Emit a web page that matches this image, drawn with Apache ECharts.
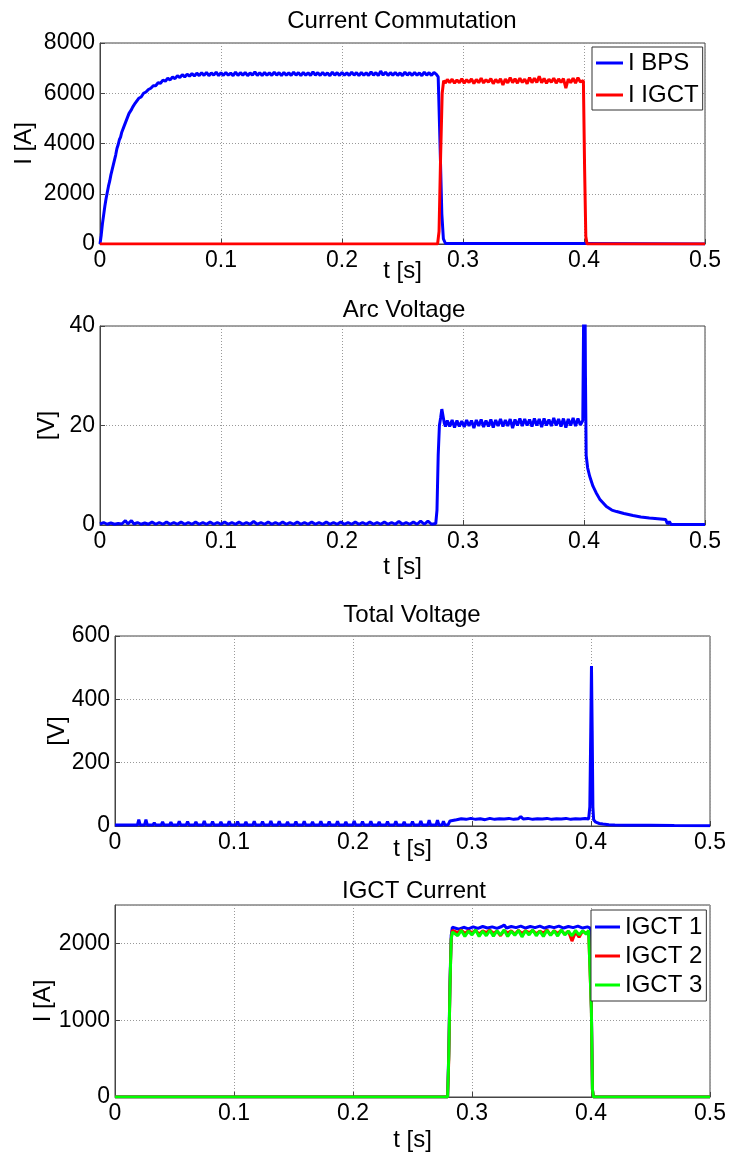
<!DOCTYPE html>
<html><head><meta charset="utf-8">
<script src="https://cdn.jsdelivr.net/npm/echarts@6/dist/echarts.min.js"></script>
<style>html,body{margin:0;padding:0;background:#fff}#c{width:730px;height:1154px}</style>
</head><body><div id="c"></div>
<script>
// ---------- data ----------
const panelTitles = ['Current Commutation', 'Arc Voltage', 'Total Voltage', 'IGCT Current'];
const yNames = ['I [A]', '[V]', '[V]', 'I [A]'];
const xName = 't [s]';
const xTicks = [0, 0.1, 0.2, 0.3, 0.4, 0.5];
const yTicks1 = [0, 2000, 4000, 6000, 8000];
const yTicks2 = [0, 20, 40];
const yTicks3 = [0, 200, 400, 600];
const yTicks4 = [0, 1000, 2000, 2500];

const iBps = [[0,0],[0.001,350],[0.002,800],[0.003,1150],[0.004,1500],[0.005,1800],[0.006,2050],[0.007,2300],[0.008,2500],[0.009,2750],[0.010,2950],[0.011,3150],[0.012,3350],[0.013,3550],[0.014,3800],[0.015,3950],[0.016,4150],[0.017,4250],[0.018,4450],[0.019,4500],[0.020,4700],[0.021,4750],[0.022,4950],[0.023,5000],[0.024,5200],[0.025,5250],[0.026,5350],[0.027,5450],[0.028,5500],[0.029,5600],[0.030,5650],[0.032,5800],[0.034,5850],[0.036,6000],[0.038,6050],[0.040,6150],[0.042,6200],[0.044,6300],[0.046,6300],[0.048,6420],[0.050,6400],[0.052,6520],[0.054,6480],[0.056,6600],[0.058,6530],[0.060,6650],[0.062,6580],[0.064,6700],[0.066,6620],[0.068,6740],[0.070,6650],[0.072,6760],[0.074,6680],[0.076,6780],[0.078,6690],[0.080,6800],[0.082,6700],
[0.084,6820],[0.086,6710],[0.088,6830],[0.090,6700],[0.092,6810],[0.094,6720],[0.096,6840],[0.098,6700],[0.100,6820],[0.102,6710],[0.104,6830],[0.106,6720],[0.108,6800],[0.110,6700],[0.112,6840],[0.114,6710],[0.116,6820],[0.118,6720],[0.120,6830],[0.122,6700],[0.124,6810],[0.126,6720],[0.128,6850],[0.130,6710],[0.132,6820],[0.134,6700],[0.136,6830],[0.138,6720],[0.140,6810],[0.142,6710],[0.144,6840],[0.146,6720],[0.148,6820],[0.150,6700],[0.152,6830],[0.154,6720],[0.156,6810],[0.158,6710],[0.160,6840],[0.162,6720],[0.164,6820],[0.166,6700],[0.168,6830],[0.170,6720],[0.172,6810],[0.174,6710],[0.176,6850],[0.178,6720],[0.180,6820],[0.182,6710],[0.184,6830],[0.186,6720],[0.188,6810],[0.190,6700],[0.192,6840],[0.194,6720],[0.196,6820],[0.198,6710],[0.200,6830],[0.202,6720],[0.204,6810],[0.206,6710],[0.208,6840],[0.210,6720],[0.212,6820],[0.214,6700],[0.216,6830],[0.218,6720],[0.220,6810],[0.222,6710],[0.224,6850],[0.226,6720],[0.228,6820],[0.230,6710],[0.232,6880],[0.234,6720],[0.236,6840],[0.238,6710],[0.240,6820],[0.242,6720],[0.244,6830],[0.246,6710],[0.248,6810],[0.250,6700],[0.252,6840],[0.254,6720],[0.256,6820],[0.258,6710],[0.260,6830],[0.262,6720],[0.264,6810],[0.266,6700],[0.268,6840],[0.270,6720],[0.272,6820],[0.274,6710],[0.276,6830],[0.278,6750],[0.2795,6650],[0.2810,4000],[0.2825,1200],[0.2838,200],[0.2855,20],[0.33,20],[0.40,20],[0.401,0],[0.5,0]];

const iIgct = [[0,0],[0.279,0],[0.2802,500],[0.2815,3500],[0.2828,6000],[0.2840,6500],[0.2855,6400],
[0.287,6550],[0.289,6420],[0.291,6560],[0.293,6400],[0.295,6530],[0.297,6420],[0.299,6580],[0.301,6400],[0.303,6540],[0.305,6430],[0.307,6570],[0.309,6390],[0.311,6550],[0.313,6420],[0.315,6600],[0.317,6410],[0.319,6540],[0.321,6440],[0.323,6580],[0.325,6380],[0.327,6550],[0.329,6420],[0.331,6570],[0.333,6330],[0.335,6560],[0.337,6410],[0.339,6620],[0.341,6420],[0.343,6580],[0.345,6400],[0.347,6600],[0.349,6430],[0.351,6560],[0.353,6380],[0.355,6620],[0.357,6420],[0.359,6600],[0.361,6430],[0.363,6680],[0.365,6420],[0.367,6590],[0.369,6400],[0.371,6560],[0.373,6440],[0.375,6600],[0.377,6400],[0.379,6570],[0.381,6430],[0.383,6580],[0.385,6200],[0.387,6560],[0.389,6420],[0.391,6600],[0.393,6400],[0.395,6620],[0.397,6450],
[0.3995,6500],[0.4005,3000],[0.4015,300],[0.4025,0],[0.5,0]];

const vArc = [[0,0.2],[0.003,0.5],[0.006,0.15],[0.009,0.4],[0.012,0.15],[0.015,0.3],[0.018,0.2],[0.021,0.9],[0.023,0.2],[0.026,0.9],[0.028,0.2],[0.031,0.5],[0.034,0.15],[0.037,0.4],[0.040,0.15],[0.043,0.6],[0.046,0.15],[0.049,0.5],[0.052,0.15],
[0.055,0.6],[0.058,0.15],[0.061,0.5],[0.064,0.15],[0.067,0.6],[0.070,0.15],[0.073,0.5],[0.076,0.15],[0.079,0.6],[0.082,0.15],[0.085,0.5],[0.088,0.15],[0.091,0.6],[0.094,0.15],[0.097,0.5],[0.100,0.15],[0.103,0.6],[0.106,0.15],[0.109,0.5],[0.112,0.15],[0.115,0.6],[0.118,0.15],[0.121,0.5],[0.124,0.15],[0.127,0.7],[0.130,0.15],[0.133,0.5],[0.136,0.15],[0.139,0.6],[0.142,0.15],[0.145,0.5],[0.148,0.15],[0.151,0.6],[0.154,0.15],[0.157,0.5],[0.160,0.15],[0.163,0.6],[0.166,0.15],[0.169,0.5],[0.172,0.15],[0.175,0.6],[0.178,0.15],[0.181,0.5],[0.184,0.15],[0.187,0.6],[0.190,0.15],[0.193,0.5],[0.196,0.15],[0.199,0.6],[0.202,0.15],[0.205,0.5],[0.208,0.15],[0.211,0.6],[0.214,0.15],[0.217,0.5],[0.220,0.15],[0.223,0.6],[0.226,0.15],[0.229,0.5],[0.232,0.15],[0.235,0.6],[0.238,0.15],[0.241,0.5],[0.244,0.15],[0.247,0.7],[0.250,0.15],[0.253,0.5],[0.256,0.15],[0.259,0.6],[0.262,0.15],[0.265,0.8],[0.268,0.15],[0.271,0.8],[0.274,0.15],[0.2775,0.3],
[0.2785,3],[0.2795,14],[0.2805,20],[0.2815,21.5],[0.2825,23.3],[0.2835,23],[0.2845,20.5],[0.2855,19.8],
[0.287,21.0],[0.289,19.8],[0.291,21.1],[0.293,19.6],[0.295,21.0],[0.297,19.8],[0.299,20.9],[0.301,19.7],[0.303,21.1],[0.305,19.9],[0.307,21.0],[0.309,19.5],[0.311,21.1],[0.313,19.9],[0.315,21.2],[0.317,19.7],[0.319,21.0],[0.321,19.8],[0.323,21.2],[0.325,19.6],[0.327,21.1],[0.329,19.9],[0.331,21.3],[0.333,19.8],[0.335,21.1],[0.337,19.9],[0.339,21.3],[0.341,19.5],[0.343,21.2],[0.345,20.0],[0.347,21.4],[0.349,19.9],[0.351,21.3],[0.353,20.0],[0.355,21.2],[0.357,19.8],[0.359,21.4],[0.361,20.0],[0.363,21.3],[0.365,19.7],[0.367,21.4],[0.369,20.0],[0.371,21.2],[0.373,19.9],[0.375,21.5],[0.377,20.0],[0.379,21.3],[0.381,19.8],[0.383,21.4],[0.385,19.6],[0.387,21.3],[0.389,20.0],[0.391,21.5],[0.393,19.9],[0.395,21.4],[0.397,20.1],[0.3990,21.0],
[0.3998,45],[0.4005,60],[0.4012,30],[0.4018,14],[0.4030,11.5],[0.4047,9.8],[0.4074,7.8],[0.410,6.5],[0.413,5.2],[0.4185,3.7],[0.423,3.0],[0.427,2.7],[0.433,2.3],[0.4405,1.9],[0.447,1.6],[0.454,1.4],[0.461,1.25],[0.4675,1.1],[0.4685,0.9],[0.469,0.2],[0.4705,0.7],[0.472,0.1],[0.5,0.1]];

const vTotal = [[0,3],[0.010,3],[0.0188,3],[0.020,20],[0.0212,3],[0.0248,3],[0.026,20],[0.0272,3],[0.0318,3],[0.033,10],[0.0342,3],[0.0388,3],[0.040,13],[0.0412,3],[0.0458,3],[0.047,12],[0.0482,3],[0.0528,3],[0.054,15],[0.0552,3],[0.0598,3],[0.061,14],[0.0622,3],[0.0668,3],[0.068,13],[0.0692,3],[0.0738,3],[0.075,16],[0.0762,3],[0.0808,3],[0.082,14],[0.0832,3],[0.0878,3],[0.089,13],[0.0902,3],[0.0948,3],[0.096,15],[0.0972,3],[0.1018,3],[0.103,14],[0.1042,3],[0.1088,3],[0.110,13],[0.1112,3],[0.1158,3],[0.117,15],[0.1182,3],[0.1228,3],[0.124,14],[0.1252,3],[0.1298,3],[0.131,16],[0.1322,3],[0.1368,3],[0.138,15],[0.1392,3],[0.1438,3],[0.145,13],[0.1462,3],[0.1508,3],[0.152,14],[0.1532,3],[0.1578,3],[0.159,15],[0.1602,3],[0.1648,3],[0.166,13],[0.1672,3],[0.1718,3],[0.173,15],[0.1742,3],[0.1788,3],[0.180,14],[0.1812,3],[0.1858,3],[0.187,15],[0.1882,3],[0.1928,3],[0.194,13],[0.1952,3],[0.1998,3],[0.201,16],[0.2022,3],[0.2068,3],[0.208,14],[0.2092,3],[0.2138,3],[0.215,15],[0.2162,3],[0.2208,3],[0.222,13],[0.2232,3],[0.2278,3],[0.229,14],[0.2302,3],[0.2348,3],[0.236,15],[0.2372,3],[0.2418,3],[0.243,13],[0.2442,3],[0.2488,3],[0.250,14],[0.2512,3],[0.2558,3],[0.257,16],[0.2582,3],[0.2628,3],[0.264,18],[0.2652,3],[0.2698,3],[0.271,18],[0.2722,3],[0.2748,3],[0.276,15],[0.2772,3],
[0.2800,4],[0.2815,16],[0.2830,22],[0.287,20],[0.291,23],[0.295,21],[0.299,24],[0.303,21],[0.307,23],[0.311,20],[0.315,24],[0.319,21],[0.323,23],[0.327,22],[0.331,24],[0.335,21],[0.339,23],[0.341,30],[0.343,22],[0.347,24],[0.351,21],[0.355,23],[0.359,22],[0.363,24],[0.367,21],[0.371,23],[0.375,22],[0.379,24],[0.383,21],[0.387,23],[0.391,22],[0.395,24],[0.398,22],
[0.3990,60],[0.3998,300],[0.4004,505],[0.4010,300],[0.4016,60],[0.4022,20],[0.404,12],[0.407,8],[0.410,6],[0.415,4],[0.420,3],[0.430,2.5],[0.450,2],[0.470,1.5],[0.500,1]];

const igct1 = [[0,0],[0.2795,0],[0.2805,600],[0.2815,1500],[0.2825,2100],[0.2835,2210],
[0.285,2200],[0.289,2185],[0.293,2210],[0.297,2190],[0.301,2215],[0.305,2195],[0.309,2220],[0.313,2200],[0.317,2215],[0.321,2195],[0.325,2220],[0.327,2240],[0.329,2200],[0.333,2220],[0.337,2205],[0.341,2225],[0.345,2200],[0.349,2220],[0.353,2205],[0.357,2225],[0.361,2200],[0.365,2220],[0.369,2205],[0.373,2225],[0.377,2200],[0.381,2220],[0.385,2205],[0.389,2225],[0.393,2200],[0.397,2215],
[0.3995,2200],[0.4003,1200],[0.4012,100],[0.402,0],[0.5,0]];

const igct2 = [[0,0],[0.2795,0],[0.2805,500],[0.2815,1450],[0.2825,2050],[0.2835,2170],
[0.285,2170],[0.288,2140],[0.291,2175],[0.294,2130],[0.297,2165],[0.300,2140],[0.303,2170],[0.306,2120],[0.309,2165],[0.312,2140],[0.315,2175],[0.318,2130],[0.321,2160],[0.324,2100],[0.327,2170],[0.330,2135],[0.333,2165],[0.336,2120],[0.339,2170],[0.342,2130],[0.345,2165],[0.348,2140],[0.351,2170],[0.354,2125],[0.357,2160],[0.360,2135],[0.363,2175],[0.366,2110],[0.369,2165],[0.372,2130],[0.375,2170],[0.378,2120],[0.381,2160],[0.384,2030],[0.387,2150],[0.390,2080],[0.393,2160],[0.396,2130],[0.398,2160],
[0.3995,2150],[0.4003,1150],[0.4012,100],[0.402,0],[0.5,0]];

const igct3 = [[0,0],[0.2795,0],[0.2805,550],[0.2815,1450],[0.2825,2050],[0.2835,2150],
[0.285,2150],[0.288,2100],[0.291,2170],[0.294,2090],[0.297,2160],[0.300,2110],[0.303,2175],[0.306,2090],[0.309,2160],[0.312,2100],[0.315,2170],[0.318,2095],[0.321,2165],[0.324,2110],[0.327,2175],[0.330,2090],[0.333,2160],[0.336,2105],[0.339,2170],[0.342,2085],[0.345,2165],[0.348,2110],[0.351,2175],[0.354,2100],[0.357,2160],[0.360,2090],[0.363,2170],[0.366,2105],[0.369,2165],[0.372,2095],[0.375,2175],[0.378,2110],[0.381,2160],[0.384,2100],[0.387,2170],[0.390,2110],[0.393,2165],[0.396,2120],[0.398,2170],
[0.3995,2150],[0.4003,1150],[0.4012,100],[0.402,0],[0.5,0]];

// ---------- layout / style ----------
const FONT = '"Liberation Sans", Arial, Helvetica, sans-serif';
const AX = '#444';
const grids = [
  {left:100, right:25, top:43, height:201},
  {left:100, right:25, top:326, height:199},
  {left:115, right:20, top:636, height:190},
  {left:115, right:20, top:905, height:192}
];
const titlePos = [[402,21],[404,310],[412,615],[414,891]];
const yNameGap = [64, 41, 46, 60];
const xNameGap = [15, 30, 11, 31];
const yTickSets = [yTicks1, yTicks2, yTicks3, yTicks4];

function xAxisFor(i){
  return {
    type:'value', gridIndex:i, min:xTicks[0], max:xTicks[xTicks.length-1], interval:xTicks[1]-xTicks[0],
    name:xName, nameLocation:'middle', nameGap:xNameGap[i], nameMoveOverlap:false,
    nameTextStyle:{fontSize:24, color:'#000', fontFamily:FONT},
    axisLine:{show:true, onZero:false, lineStyle:{color:AX, width:1}},
    axisTick:{show:true, inside:true, length:5, lineStyle:{color:AX}},
    axisLabel:{fontSize:23, color:'#000', fontFamily:FONT, margin:5,
      formatter:v=>String(Math.round(v*10)/10)},
    splitLine:{show:true, lineStyle:{color:'#999', type:[1,2], width:1}}
  };
}
function yAxisFor(i){
  const t = yTickSets[i];
  return {
    type:'value', gridIndex:i, min:t[0], max:t[t.length-1], interval:t[1]-t[0],
    name:yNames[i], nameLocation:'middle', nameGap:yNameGap[i], nameMoveOverlap:false,
    nameTextStyle:{fontSize:24, color:'#000', fontFamily:FONT},
    axisLine:{show:true, lineStyle:{color:AX, width:1}},
    axisTick:{show:true, inside:true, length:5, lineStyle:{color:AX}},
    axisLabel:{fontSize:23, color:'#000', fontFamily:FONT, margin:5, showMaxLabel: i!==3,
      formatter:v=>String(v)},
    splitLine:{show:true, lineStyle:{color:'#999', type:[1,2], width:1}}
  };
}
function line(name, data, color, i){
  return {type:'line', name, data, xAxisIndex:i, yAxisIndex:i, showSymbol:false, symbol:'none',
    lineStyle:{color, width:3}, itemStyle:{color}, clip:true, animation:false, z:3};
}
const legendCommon = {
  orient:'vertical', icon:'rect', selectedMode:false,
  borderColor:'#333', borderWidth:1, backgroundColor:'#fff', borderRadius:0,
  textStyle:{fontSize:24, color:'#000', fontFamily:FONT}
};

const option = {
  backgroundColor:'#fff',
  animation:false,
  title: panelTitles.map((t,i)=>({text:t, left:titlePos[i][0], top:titlePos[i][1], textAlign:'center', textVerticalAlign:'middle', padding:0,
    textStyle:{fontSize:24, fontWeight:'normal', color:'#000', fontFamily:FONT}})),
  grid: grids.map(g=>Object.assign({show:true, borderColor:AX, borderWidth:1, backgroundColor:'#fff', containLabel:false}, g)),
  xAxis: [0,1,2,3].map(xAxisFor),
  yAxis: [0,1,2,3].map(yAxisFor),
  legend: [
    Object.assign({}, legendCommon, {data:['I BPS','I IGCT'], left:592, top:47, itemWidth:27, itemHeight:3, itemGap:4, padding:[2,4,1,4],
      textStyle:Object.assign({}, legendCommon.textStyle, {lineHeight:28})}),
    Object.assign({}, legendCommon, {data:['IGCT 1','IGCT 2','IGCT 3'], left:591, top:910, itemWidth:25, itemHeight:3, itemGap:3, padding:[4,4,3,4],
      textStyle:Object.assign({}, legendCommon.textStyle, {lineHeight:26})})
  ],
  series: [
    line('I BPS', iBps, '#0000ff', 0),
    line('I IGCT', iIgct, '#ff0000', 0),
    line('Arc Voltage', vArc, '#0000ff', 1),
    line('Total Voltage', vTotal, '#0000ff', 2),
    line('IGCT 1', igct1, '#0000ff', 3),
    line('IGCT 2', igct2, '#ff0000', 3),
    line('IGCT 3', igct3, '#00ff00', 3)
  ]
};
const chart = echarts.init(document.getElementById('c'), null, {renderer:'canvas'});
chart.setOption(option);
</script>
</body></html>
